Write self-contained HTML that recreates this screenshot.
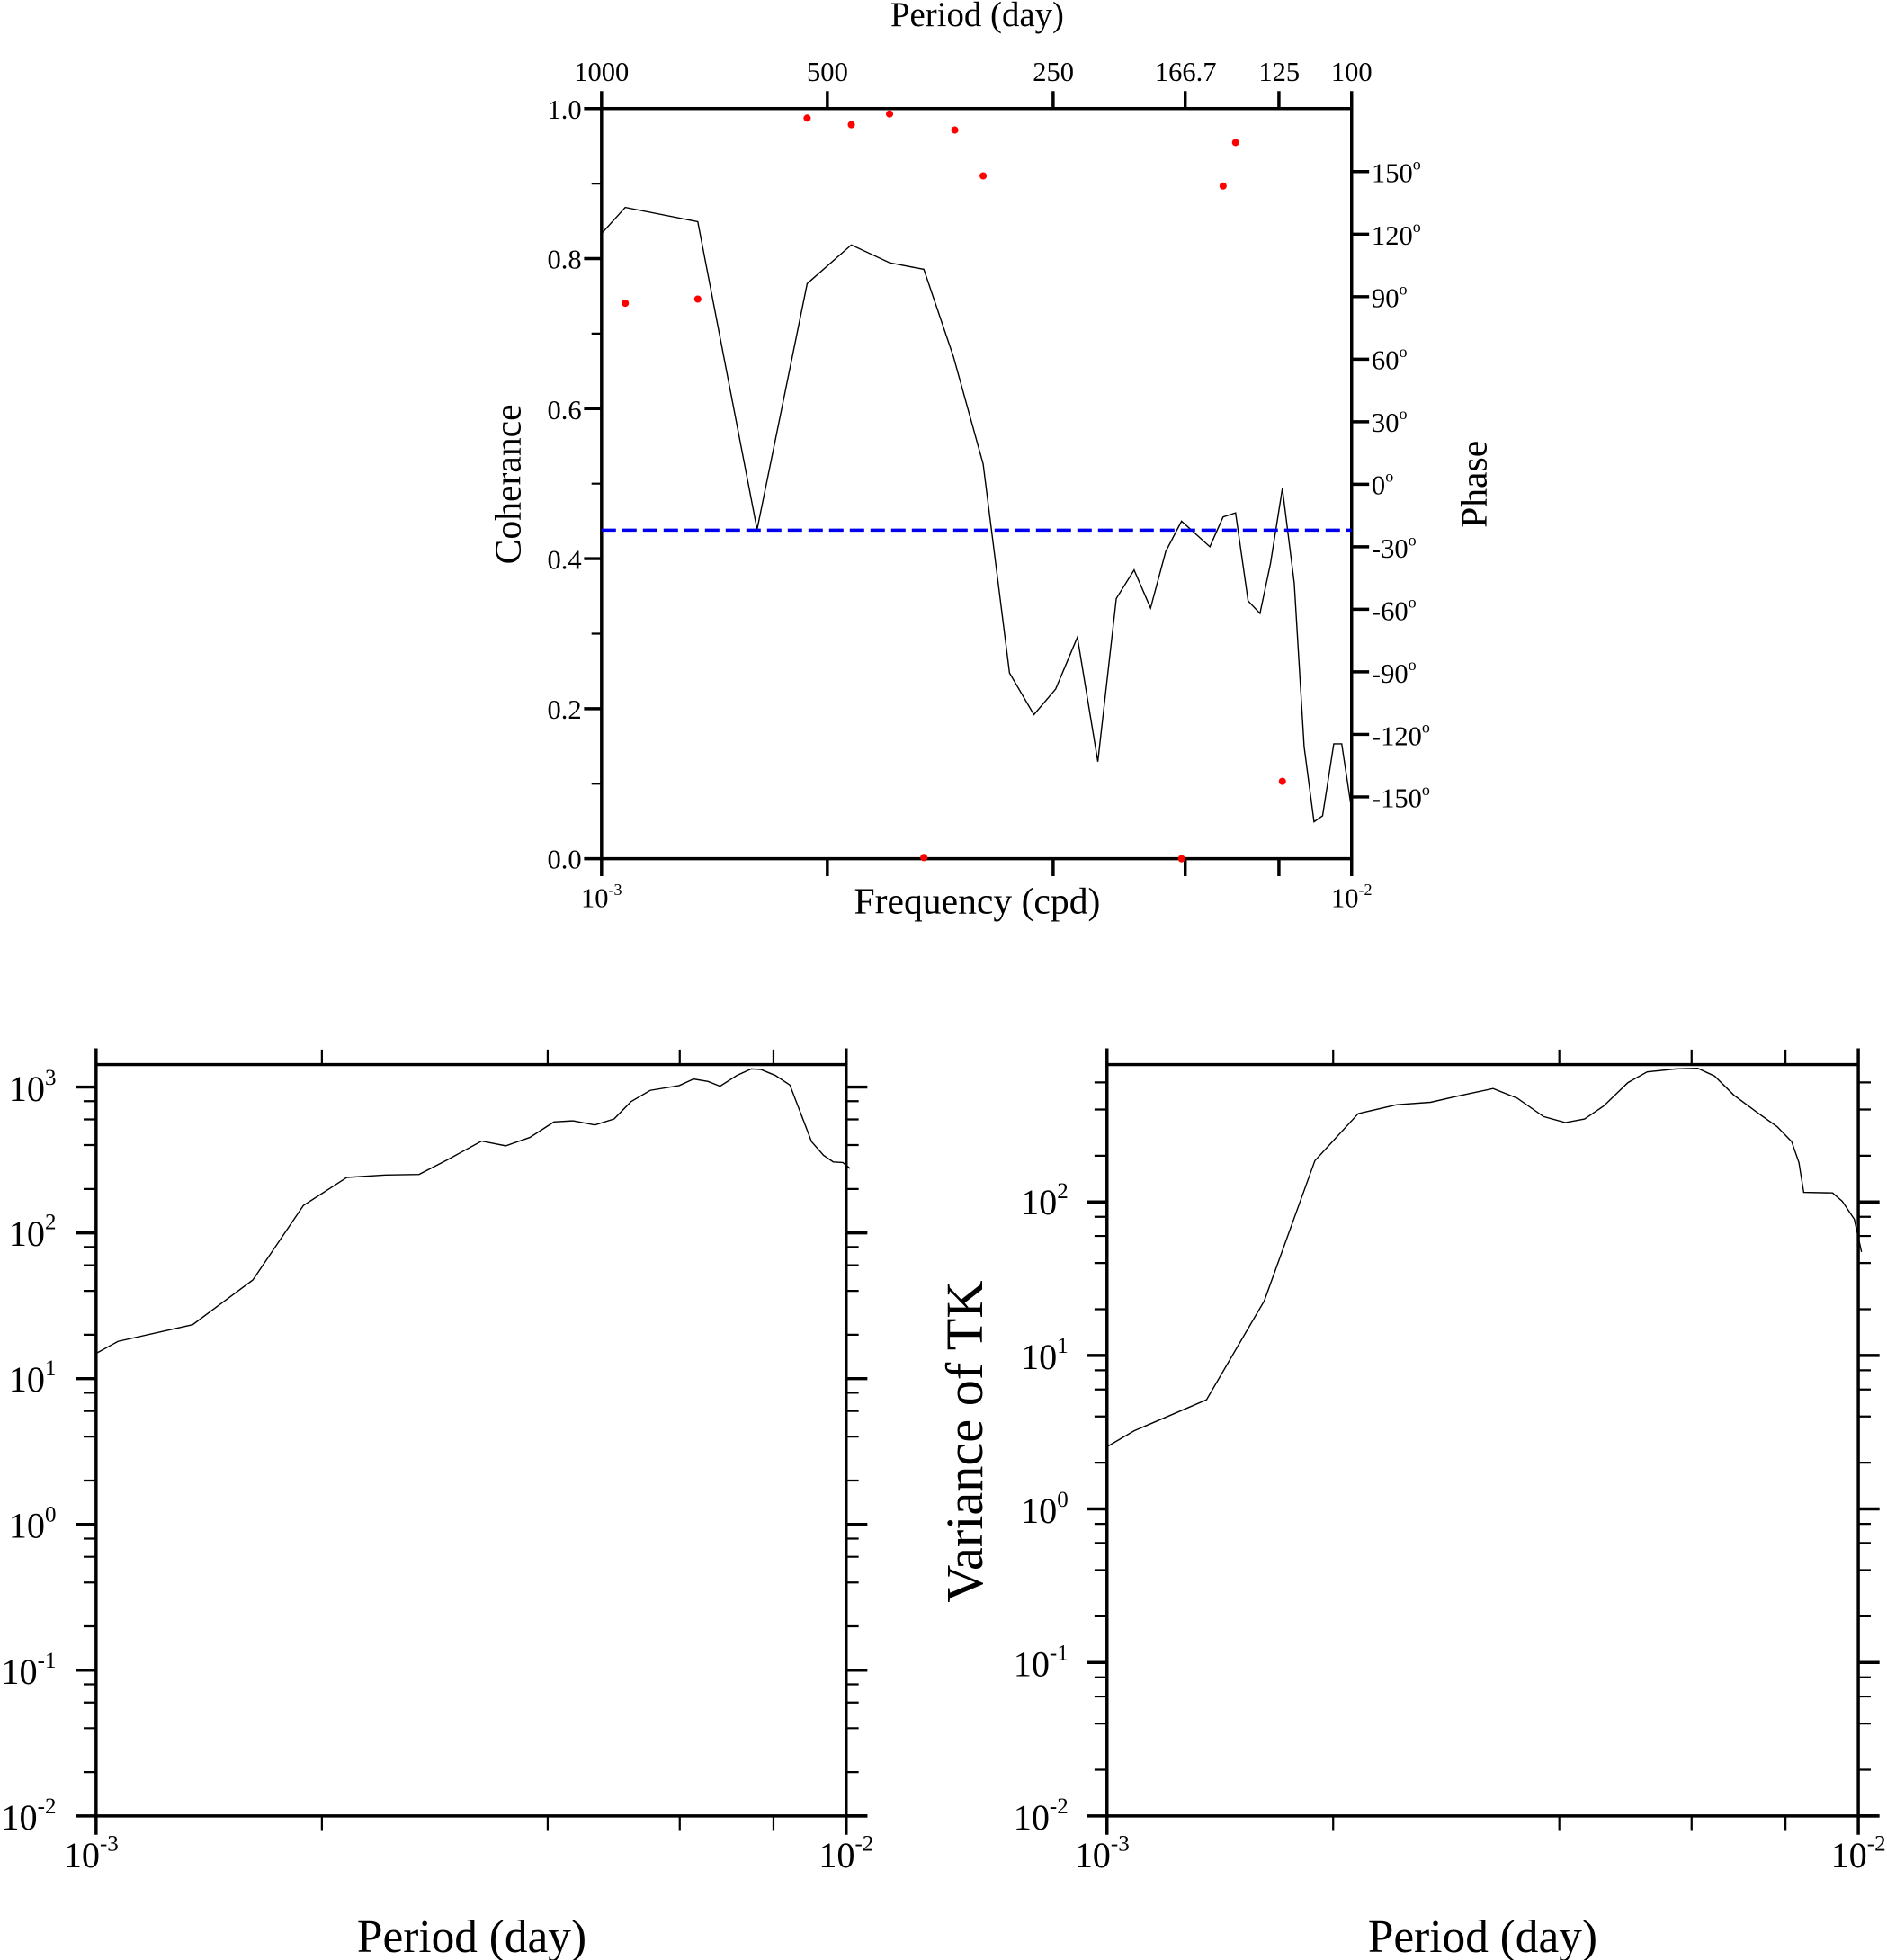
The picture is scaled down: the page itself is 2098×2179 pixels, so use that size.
<!DOCTYPE html>
<html><head><meta charset="utf-8"><style>
html,body{margin:0;padding:0;background:#fff;}
svg{display:block;}
text{font-family:"Liberation Serif",serif;fill:#000;}
</style></head><body>
<svg id="s" xmlns="http://www.w3.org/2000/svg" width="2098" height="2179" viewBox="0 0 1512 1570.4" preserveAspectRatio="none">
<g id="ticks" stroke="#000" fill="none"></g>
<rect x="482" y="87" width="601" height="601" fill="none" stroke="#000" stroke-width="2.5"/>
<g transform="matrix(0.5281,0,0,0.477,388,-0.29)">
<polyline vector-effect="non-scaling-stroke" fill="none" stroke="#000" stroke-width="1.4" points="178,393 214,349 324,373 414,890 490,477 557,412 615,442 667,453 712,600 757,780 797,1131 834,1201 867,1158 900,1071 931,1280 959,1006 986,958 1011,1022 1034,927 1058,876 1101,919 1121,869 1140,862 1159,1010 1177,1031 1193,947 1211,821 1229,980 1244,1255 1259,1381 1272,1371 1289,1250 1301,1250 1316,1360"/>
<line vector-effect="non-scaling-stroke" x1="178" y1="891" x2="1316" y2="891" stroke="#0000ee" stroke-width="3.5" stroke-dasharray="16,7"/>
<g fill="#f00">
<ellipse cx="214" cy="510" rx="5.5" ry="6.1"/><ellipse cx="324" cy="503" rx="5.5" ry="6.1"/><ellipse cx="490" cy="199" rx="5.5" ry="6.1"/><ellipse cx="557" cy="210" rx="5.5" ry="6.1"/><ellipse cx="615" cy="192" rx="5.5" ry="6.1"/><ellipse cx="667" cy="1441" rx="5.5" ry="6.1"/><ellipse cx="714" cy="219" rx="5.5" ry="6.1"/><ellipse cx="757" cy="296" rx="5.5" ry="6.1"/><ellipse cx="1058" cy="1443" rx="5.5" ry="6.1"/><ellipse cx="1121" cy="313" rx="5.5" ry="6.1"/><ellipse cx="1140" cy="240" rx="5.5" ry="6.1"/><ellipse cx="1211" cy="1313" rx="5.5" ry="6.1"/>
</g></g>
<text x="783" y="21" font-size="28" text-anchor="middle">Period (day)</text>
<g font-size="22" text-anchor="middle">
<text x="482" y="65">1000</text><text x="663" y="65">500</text><text x="844" y="65">250</text><text x="950" y="65">166.7</text><text x="1025" y="65">125</text><text x="1083" y="65">100</text>
</g>
<g font-size="22" text-anchor="end">
<text x="466" y="95">1.0</text><text x="466" y="215">0.8</text><text x="466" y="336">0.6</text><text x="466" y="456">0.4</text><text x="466" y="576">0.2</text><text x="466" y="696">0.0</text>
</g>
<g font-size="22">
<text x="1099" y="146">150<tspan font-size="13" dy="-10">o</tspan></text>
<text x="1099" y="196">120<tspan font-size="13" dy="-10">o</tspan></text>
<text x="1099" y="246">90<tspan font-size="13" dy="-10">o</tspan></text>
<text x="1099" y="296">60<tspan font-size="13" dy="-10">o</tspan></text>
<text x="1099" y="346">30<tspan font-size="13" dy="-10">o</tspan></text>
<text x="1099" y="396">0<tspan font-size="13" dy="-10">o</tspan></text>
<text x="1099" y="447">-30<tspan font-size="13" dy="-10">o</tspan></text>
<text x="1099" y="497">-60<tspan font-size="13" dy="-10">o</tspan></text>
<text x="1099" y="547">-90<tspan font-size="13" dy="-10">o</tspan></text>
<text x="1099" y="597">-120<tspan font-size="13" dy="-10">o</tspan></text>
<text x="1099" y="647">-150<tspan font-size="13" dy="-10">o</tspan></text>
</g>
<text transform="translate(417,388) rotate(-90)" font-size="30" text-anchor="middle">Coherance</text>
<text transform="translate(1191,388) rotate(-90)" font-size="30" text-anchor="middle">Phase</text>
<text x="783" y="732" font-size="30" text-anchor="middle">Frequency (cpd)</text>
<text x="482" y="727" font-size="22" text-anchor="middle">10<tspan font-size="13" dy="-10">-3</tspan></text>
<text x="1083" y="727" font-size="22" text-anchor="middle">10<tspan font-size="13" dy="-10">-2</tspan></text>

<g stroke="#000" stroke-width="2.5" fill="none">
<line x1="77" y1="840" x2="77" y2="1470"/><line x1="77" y1="853" x2="678" y2="853"/><line x1="77" y1="1455" x2="695" y2="1455"/><line x1="678" y1="840" x2="678" y2="1470"/>
<line x1="887" y1="840" x2="887" y2="1470"/><line x1="887" y1="853" x2="1489" y2="853"/><line x1="887" y1="1455" x2="1505" y2="1455"/><line x1="1489" y1="840" x2="1489" y2="1470"/>
</g>
<g transform="matrix(0.9648,0,0,0.4776,0,821.6)">
<polyline vector-effect="non-scaling-stroke" fill="none" stroke="#000" stroke-width="1.4" points="80,550 98,530 160,502 210,427 252,302 288,255 320,251 348,250 372,225 400,194 420,202 440,188 460,162 476,160 494,167 510,157 524,128 540,109 564,101 576,90 588,94 598,102 612,84 624,73 632,74 644,84 656,100 674,195 684,218 692,229 700,230 706,240"/>
<polyline vector-effect="non-scaling-stroke" fill="none" stroke="#000" stroke-width="1.4" points="920,706 942,680 1002,628 1050,462 1092,227 1128,148 1160,133 1188,129 1212,118 1240,106 1260,122 1282,153 1300,163 1316,157 1332,135 1352,96 1368,78 1392,73 1410,72 1424,85 1440,117 1460,147 1476,170 1488,195 1494,230 1498,280 1522,281 1530,295 1540,325 1546,380"/>
</g>
<g font-size="29" text-anchor="end">
<text x="45" y="882">10<tspan font-size="18" dy="-13">3</tspan></text>
<text x="45" y="998">10<tspan font-size="18" dy="-13">2</tspan></text>
<text x="45" y="1115">10<tspan font-size="18" dy="-13">1</tspan></text>
<text x="45" y="1232">10<tspan font-size="18" dy="-13">0</tspan></text>
<text x="45" y="1349">10<tspan font-size="18" dy="-13">-1</tspan></text>
<text x="45" y="1466">10<tspan font-size="18" dy="-13">-2</tspan></text>
<text x="856" y="973">10<tspan font-size="18" dy="-13">2</tspan></text>
<text x="856" y="1097">10<tspan font-size="18" dy="-13">1</tspan></text>
<text x="856" y="1220">10<tspan font-size="18" dy="-13">0</tspan></text>
<text x="856" y="1343">10<tspan font-size="18" dy="-13">-1</tspan></text>
<text x="856" y="1466">10<tspan font-size="18" dy="-13">-2</tspan></text>
</g>
<g font-size="29" text-anchor="middle">
<text x="73" y="1496">10<tspan font-size="18" dy="-13">-3</tspan></text>
<text x="678" y="1496">10<tspan font-size="18" dy="-13">-2</tspan></text>
<text x="883" y="1496">10<tspan font-size="18" dy="-13">-3</tspan></text>
<text x="1489" y="1496">10<tspan font-size="18" dy="-13">-2</tspan></text>
</g>
<text x="378" y="1564" font-size="37" text-anchor="middle">Period (day)</text>
<text x="1188" y="1564" font-size="37" text-anchor="middle">Period (day)</text>
<text transform="translate(787,1155) rotate(-90)" font-size="42" text-anchor="middle">Variance of TK</text>
</svg>
<script>
(function(){
var g=document.getElementById('ticks');var d='',dm='';
function L(x1,y1,x2,y2,maj){var s='M'+x1+' '+y1+'L'+x2+' '+y2;if(maj)d+=s;else dm+=s;}
var lg=[0.30103,0.60206,0.77815,0.90309];
for(var i=0;i<=10;i++){var y=688-i*60.1;L(482,y,i%2==0?468:474,y,i%2==0);}
for(var p=-150;p<=150;p+=30){var y=388-p*50.1/30;L(1083,y,1097,y,1);}
[0,0.30103,0.60206,0.77815,0.90309,1].forEach(function(f){var x=482+f*601;L(x,87,x,73,1);L(x,688,x,702,1);});
function bp(x0,x1,top,bot,decTop,dec){
 for(var k=0;;k++){var y=bot-k*dec;if(y<top-1)break;L(x0,y,x0-16,y,1);L(x1,y,x1+17,y,1);
  lg.forEach(function(f){var yy=y-f*dec;if(yy>=top){L(x0,yy,x0-10,yy,0);L(x1,yy,x1+10,yy,0);}});}
 lg.forEach(function(f){var x=x0+f*(x1-x0);L(x,top,x,top-12,0);L(x,bot,x,bot+12,0);});
}
bp(77,678,853,1455,0,116.8);
bp(887,1489,853,1455,0,123);
g.innerHTML='<path d="'+d+'" stroke-width="2.5"/><path d="'+dm+'" stroke-width="1.6"/>';
})();
</script>
</body></html>
